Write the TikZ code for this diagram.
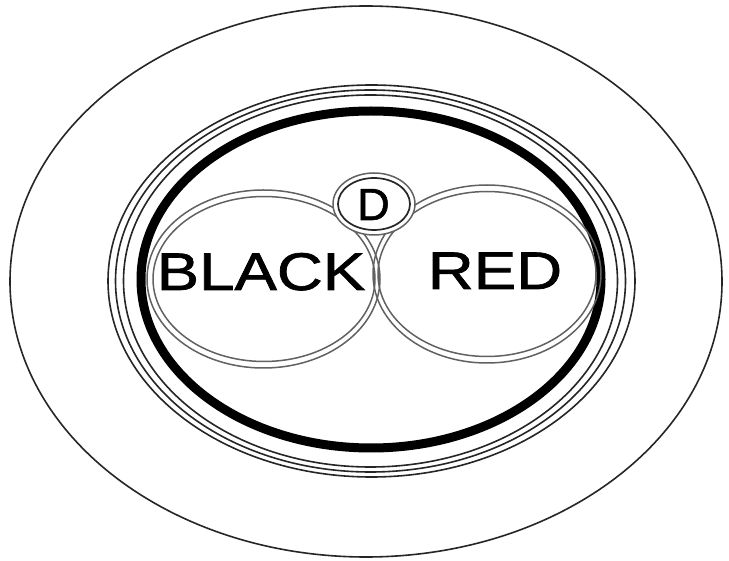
\documentclass[tikz,border=0pt]{standalone}
\usepackage{fontspec}
\setmainfont{Liberation Sans}
\newfontfamily\labelfont[FakeBold=1.2]{Liberation Sans}
\begin{document}
\begin{tikzpicture}[x=1pt,y=-1pt,
  thinring/.style={draw=black!85,line width=1.6pt},
  pairline/.style={draw=black!62,line width=1.5pt},
  thickring/.style={draw=black,line width=9pt},
  bigtext/.style={font=\labelfont\fontsize{53}{60}\selectfont,xscale=1.2,anchor=base,inner sep=0pt},
  dtext/.style={font=\labelfont\fontsize{45}{50}\selectfont,anchor=base,inner sep=0pt}]
\fill[white] (0,0) rectangle (729,561);
\useasboundingbox (0,0) rectangle (729,561);
% outer big ellipse
\draw[thinring] (366,281.5) ellipse [x radius=356pt, y radius=275.5pt];
% middle group of rings
\draw[thinring] (371.5,281) ellipse [x radius=263.5pt, y radius=196pt];
\draw[thinring] (370.5,281) ellipse [x radius=255pt, y radius=191pt];
\draw[thinring] (370.5,281) ellipse [x radius=247pt, y radius=186pt];
\draw[thickring] (371,279.5) ellipse [x radius=230pt, y radius=168.5pt];
% left ellipse (double line)
\draw[pairline] (263.5,279) ellipse [x radius=116.5pt, y radius=89pt];
\draw[pairline] (264,279) ellipse [x radius=111pt, y radius=82.5pt];
% right ellipse (double line)
\draw[pairline] (487,274) ellipse [x radius=114pt, y radius=89pt];
\draw[pairline] (487,274) ellipse [x radius=109pt, y radius=82.5pt];
% D circle
\fill[white] (374,204) ellipse [x radius=41pt, y radius=31pt];
\draw[pairline] (374,204) ellipse [x radius=41pt, y radius=31pt];
\draw[draw=black!85,line width=1.7pt] (374,204) ellipse [x radius=36pt, y radius=26pt];
% texts
\node[bigtext] (black) at (261,290) {BLACK};
\node[bigtext] (red) at (495,289) {RED};
\node[dtext] (d) at (373.5,220) {D};
\end{tikzpicture}
\end{document}
